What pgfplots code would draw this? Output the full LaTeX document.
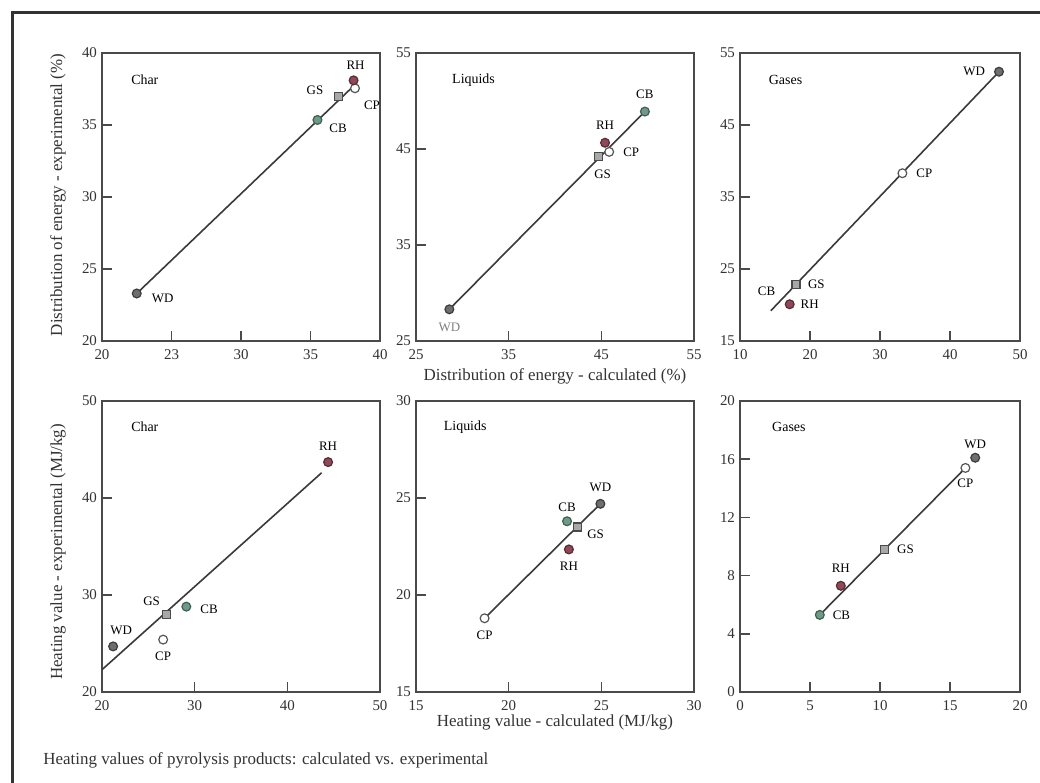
\documentclass[border=0pt]{standalone}
\usepackage{fontspec}
\setmainfont{Liberation Serif}
\usepackage{pgfplots}
\pgfplotsset{compat=1.18}
\definecolor{axg}{HTML}{4A4A4A}
\definecolor{txg}{HTML}{333333}
\definecolor{linec}{HTML}{3A3A3A}
\definecolor{wdfill}{HTML}{6E6E6E}\definecolor{wddraw}{HTML}{3C3C3C}
\definecolor{cpdraw}{HTML}{555555}
\definecolor{gsfill}{HTML}{A8A8A8}\definecolor{gsdraw}{HTML}{4A4A4A}
\definecolor{cbfill}{HTML}{6F9A88}\definecolor{cbdraw}{HTML}{3F5F52}
\definecolor{rhfill}{HTML}{8C4A58}\definecolor{rhdraw}{HTML}{5A2A35}
\newcommand{\ptlab}{\fontsize{6.5}{7.5}\selectfont}
\newcommand{\ttl}{\fontsize{7}{8}\selectfont}
\pgfplotsset{
  panel/.style={scale only axis, anchor=south west, clip=false,
    axis line style={draw=axg, line width=1bp},
    tick style={draw=axg, line width=0.8bp},
    major tick length=5bp, tick align=inside,
    xtick pos=bottom, ytick pos=left,
    tick label style={font=\fontsize{7.5}{8.5}\selectfont, text=txg},
    xticklabel style={yshift=-1bp},
    yticklabel style={xshift=1bp},
    /pgf/number format/assume math mode=true,
    every node/.append style={text=txg}},
  fitl/.style={no marks, draw=linec, line width=0.8bp},
  WD/.style={only marks, mark=*, mark size=2.2bp, mark options={fill=wdfill, draw=wddraw, line width=0.6bp}},
  CP/.style={only marks, mark=*, mark size=2.2bp, mark options={fill=white, draw=cpdraw, line width=0.6bp}},
  GS/.style={only marks, mark=square*, mark size=2bp, mark options={fill=gsfill, draw=gsdraw, line width=0.6bp}},
  CB/.style={only marks, mark=*, mark size=2.2bp, mark options={fill=cbfill, draw=cbdraw, line width=0.6bp}},
  RH/.style={only marks, mark=*, mark size=2.2bp, mark options={fill=rhfill, draw=rhdraw, line width=0.6bp}},
}
\begin{document}
\begin{tikzpicture}
\useasboundingbox (0,0) rectangle (520bp,391.5bp);
\fill[white] (0,0) rectangle (520bp,391.5bp);
\draw[line width=1.5bp, color=txg] (6bp,0) -- (6bp,385bp) -- (520bp,385bp);

% ---------- Row 1, panel 1: Char ----------
\begin{axis}[panel, at={(51bp,221bp)}, width=139bp, height=144bp,
  xmin=20, xmax=40, ymin=20, ymax=40,
  xtick={20,25,30,35,40}, xticklabels={20,23,30,35,40},
  ytick={20,25,30,35,40}]
\addplot[fitl] coordinates {(22.5,23.3) (38.2,37.8)};
\addplot[WD] coordinates {(22.5,23.3)};
\addplot[CB] coordinates {(35.5,35.35)};
\addplot[GS] coordinates {(37.0,37.0)};
\addplot[CP] coordinates {(38.2,37.55)};
\addplot[RH] coordinates {(38.1,38.1)};
\node[font=\ttl, anchor=west] at (rel axis cs:0.08,0.906) {Char};
\node[font=\ptlab, anchor=west, xshift=4bp, yshift=-2.5bp] at (axis cs:22.5,23.3) {WD};
\node[font=\ptlab, anchor=west, xshift=2.5bp, yshift=-4bp] at (axis cs:35.5,35.35) {CB};
\node[font=\ptlab, anchor=east, xshift=-4bp, yshift=3bp] at (axis cs:37.0,37.0) {GS};
\node[font=\ptlab, anchor=south, xshift=1bp, yshift=2bp] at (axis cs:38.1,38.1) {RH};
\node[font=\ptlab, anchor=north west, xshift=1bp, yshift=-3bp] at (axis cs:38.2,37.55) {CP};
\end{axis}

% ---------- Row 1, panel 2: Liquids ----------
\begin{axis}[panel, at={(208bp,221bp)}, width=139bp, height=144bp,
  xmin=25, xmax=55, ymin=25, ymax=55,
  xtick={25,35,45,55}, ytick={25,35,45,55}]
\addplot[fitl] coordinates {(28.6,28.3) (49.7,48.9)};
\addplot[WD] coordinates {(28.6,28.3)};
\addplot[CB] coordinates {(49.7,48.9)};
\addplot[GS] coordinates {(44.7,44.2)};
\addplot[CP] coordinates {(45.85,44.7)};
\addplot[RH] coordinates {(45.4,45.65)};
\node[font=\ttl, anchor=west] at (rel axis cs:0.105,0.906) {Liquids};
\node[font=\ptlab, anchor=north, yshift=-3.5bp, text=gray] at (axis cs:28.6,28.3) {WD};
\node[font=\ptlab, anchor=south, yshift=3bp] at (axis cs:49.7,48.9) {CB};
\node[font=\ptlab, anchor=south, yshift=3bp] at (axis cs:45.4,45.65) {RH};
\node[font=\ptlab, anchor=west, xshift=3.5bp] at (axis cs:45.85,44.7) {CP};
\node[font=\ptlab, anchor=north, xshift=2bp, yshift=-3bp] at (axis cs:44.7,44.2) {GS};
\end{axis}

% ---------- Row 1, panel 3: Gases ----------
\begin{axis}[panel, at={(370bp,221bp)}, width=140bp, height=144bp,
  xmin=10, xmax=50, ymin=15, ymax=55,
  xtick={10,20,30,40,50}, ytick={15,25,35,45,55}]
\addplot[fitl] coordinates {(14.4,19.2) (47.0,52.4)};
\addplot[WD] coordinates {(47.0,52.4)};
\addplot[CP] coordinates {(33.2,38.3)};
\addplot[GS] coordinates {(18.0,22.9)};
\addplot[RH] coordinates {(17.1,20.1)};
\node[font=\ttl, anchor=west] at (rel axis cs:0.078,0.906) {Gases};
\node[font=\ptlab, anchor=east, xshift=-3.5bp] at (axis cs:47.0,52.4) {WD};
\node[font=\ptlab, anchor=west, xshift=3.5bp] at (axis cs:33.2,38.3) {CP};
\node[font=\ptlab, anchor=west, xshift=2.5bp] at (axis cs:18.0,22.9) {GS};
\node[font=\ptlab, anchor=west, xshift=2bp] at (axis cs:17.1,20.1) {RH};
\node[font=\ptlab] at (axis cs:13.8,21.85) {CB};
\end{axis}

% ---------- Row 2, panel 4: Char ----------
\begin{axis}[panel, at={(51bp,45.5bp)}, width=139bp, height=145.5bp,
  xmin=20, xmax=50, ymin=20, ymax=50,
  xtick={20,30,40,50}, ytick={20,30,40,50}]
\addplot[fitl] coordinates {(20,22.3) (43.7,42.6)};
\addplot[RH] coordinates {(44.4,43.7)};
\addplot[GS] coordinates {(27.0,28.0)};
\addplot[CB] coordinates {(29.1,28.8)};
\addplot[WD] coordinates {(21.2,24.7)};
\addplot[CP] coordinates {(26.6,25.4)};
\node[font=\ttl, anchor=west] at (rel axis cs:0.08,0.91) {Char};
\node[font=\ptlab, anchor=south, yshift=2.5bp] at (axis cs:44.4,43.7) {RH};
\node[font=\ptlab, anchor=south east, xshift=0bp, yshift=1bp] at (axis cs:27.0,28.0) {GS};
\node[font=\ptlab, anchor=west, xshift=3.5bp, yshift=-1.5bp] at (axis cs:29.1,28.8) {CB};
\node[font=\ptlab, anchor=south, xshift=4bp, yshift=2.5bp] at (axis cs:21.2,24.7) {WD};
\node[font=\ptlab, anchor=north, yshift=-2.5bp] at (axis cs:26.6,25.4) {CP};
\end{axis}

% ---------- Row 2, panel 5: Liquids ----------
\begin{axis}[panel, at={(208bp,45.5bp)}, width=139bp, height=145.5bp,
  xmin=15, xmax=30, ymin=15, ymax=30,
  xtick={15,20,25,30}, ytick={15,20,25,30}]
\addplot[fitl] coordinates {(18.7,18.8) (24.95,24.7)};
\addplot[WD] coordinates {(24.95,24.7)};
\addplot[CB] coordinates {(23.15,23.8)};
\addplot[GS] coordinates {(23.7,23.5)};
\addplot[RH] coordinates {(23.25,22.35)};
\addplot[CP] coordinates {(18.7,18.8)};
\node[font=\ttl, anchor=west] at (rel axis cs:0.075,0.91) {Liquids};
\node[font=\ptlab, anchor=south, yshift=2.5bp] at (axis cs:24.95,24.7) {WD};
\node[font=\ptlab, anchor=south, yshift=1.5bp] at (axis cs:23.15,23.8) {CB};
\node[font=\ptlab, anchor=west, xshift=1.5bp, yshift=-3.5bp] at (axis cs:23.7,23.5) {GS};
\node[font=\ptlab, anchor=north, yshift=-3bp] at (axis cs:23.25,22.35) {RH};
\node[font=\ptlab, anchor=north, yshift=-3bp] at (axis cs:18.7,18.8) {CP};
\end{axis}

% ---------- Row 2, panel 6: Gases ----------
\begin{axis}[panel, at={(370bp,45.5bp)}, width=140bp, height=145.5bp,
  xmin=0, xmax=20, ymin=0, ymax=20,
  xtick={0,5,10,15,20}, ytick={0,4,8,12,16,20}]
\addplot[fitl] coordinates {(5.7,5.3) (16.1,15.4)};
\addplot[WD] coordinates {(16.8,16.1)};
\addplot[CP] coordinates {(16.1,15.4)};
\addplot[GS] coordinates {(10.3,9.8)};
\addplot[RH] coordinates {(7.2,7.3)};
\addplot[CB] coordinates {(5.7,5.3)};
\node[font=\ttl, anchor=west] at (rel axis cs:0.09,0.91) {Gases};
\node[font=\ptlab, anchor=south, yshift=1bp] at (axis cs:16.8,16.1) {WD};
\node[font=\ptlab, anchor=north, yshift=-2bp] at (axis cs:16.1,15.4) {CP};
\node[font=\ptlab, anchor=west, xshift=3bp] at (axis cs:10.3,9.8) {GS};
\node[font=\ptlab, anchor=south, yshift=3bp] at (axis cs:7.2,7.3) {RH};
\node[font=\ptlab, anchor=west, xshift=3bp] at (axis cs:5.7,5.3) {CB};
\end{axis}

% ---------- axis labels and caption ----------
\node[rotate=90, font=\fontsize{8.5}{10}\selectfont, text=txg] at (29bp,294bp) {Distribution of energy - experimental (\%)};
\node[rotate=90, font=\fontsize{8.5}{10}\selectfont, text=txg] at (29bp,115.5bp) {Heating value - experimental (MJ/kg)};
\node[font=\fontsize{8.5}{10}\selectfont, text=txg] at (277.5bp,203.5bp) {Distribution of energy - calculated (\%)};
\node[font=\fontsize{8.5}{10}\selectfont, text=txg] at (277.5bp,30.1bp) {Heating value - calculated (MJ/kg)};
\node[font=\fontsize{8.5}{10}\selectfont, text=txg, anchor=west, inner sep=0pt] at (21.5bp,11.5bp) {Heating values of pyrolysis products: calculated vs. experimental};
\end{tikzpicture}
\end{document}
